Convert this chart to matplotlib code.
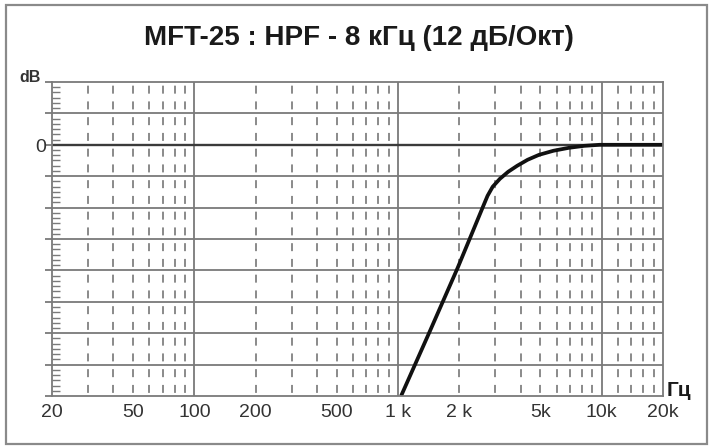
import matplotlib
matplotlib.use('Agg')
import matplotlib.pyplot as plt
from matplotlib.patches import Rectangle

# response curve (Hz, dB)
freq = [1035, 1434, 1963, 2280, 2624, 2752, 2915, 3163, 3472, 3850, 4328,
        4920, 5793, 6889, 8198, 9770, 20000]
gain = [-24.0, -17.8, -11.75, -8.7, -5.83, -4.87, -4.01, -3.25, -2.58, -2.0, -1.43,
        -0.96, -0.57, -0.29, -0.1, 0.0, 0.0]

tick_freqs = [20, 50, 100, 200, 500, 1000, 2000, 5000, 10000, 20000]
tick_labels = ['20', '50', '100', '200', '500', '1 k', '2 k', '5k', '10k', '20k']
major_freqs = [100, 1000, 10000]
minor_freqs = [30, 40, 50, 60, 70, 80, 90,
               200, 300, 400, 500, 600, 700, 800, 900,
               2000, 3000, 4000, 5000, 6000, 7000, 8000, 9000,
               12000, 14000, 16000, 18000]
db_lines = [-21, -18, -15, -12, -9, -6, -3, 3]
db_min, db_max = -24, 6

title = 'MFT-25 : HPF - 8 кГц (12 дБ/Окт)'

W, H = 712, 448
fig = plt.figure(figsize=(W / 100, H / 100), dpi=100)
plt.rcParams['font.family'] = ['Liberation Sans', 'DejaVu Sans']

# outer frame
fig.patches.append(Rectangle((6 / W, 4 / H), 701 / W, 439 / H, transform=fig.transFigure,
                             fill=False, edgecolor='#8a8a8a', linewidth=1.6))

ax = fig.add_axes([52 / W, (H - 396) / H, 611 / W, 314 / H])
ax.set_xscale('log')
ax.set_xlim(20, 20000)
ax.set_ylim(db_min, db_max)

grid_c = '#7a7a7a'
ax.vlines(minor_freqs, db_min, db_max, colors='#8a8a8a', linewidth=1.4,
          linestyles=(6.5, (4.1, 4.0)))
ax.vlines(major_freqs, db_min, db_max, colors=grid_c, linewidth=1.3)
ax.hlines(db_lines, 20, 20000, colors=grid_c, linewidth=1.3)
ax.axhline(0, color='#3a3a3a', linewidth=1.7)

ax.plot(freq, gain, color='#111111', linewidth=2.7, solid_capstyle='butt')

for s in ax.spines.values():
    s.set_color(grid_c)
    s.set_linewidth(1.3)

ax.set_xticks(tick_freqs)
ax.set_xticklabels(tick_labels)
ax.xaxis.set_minor_locator(matplotlib.ticker.NullLocator())
ax.tick_params(axis='x', length=0, pad=6, labelsize=14, labelcolor='#333333')

ax.set_yticks(db_lines + [0, db_min, db_max])
ax.set_yticklabels([])
ax.tick_params(axis='y', which='major', direction='out', length=5, color=grid_c, width=1.3)
ax.yaxis.set_minor_locator(matplotlib.ticker.MultipleLocator(0.5))
ax.tick_params(axis='y', which='minor', direction='in', length=6, color=grid_c, width=1.0)

fig.text(359 / W, 1 - 38 / H, title, ha='center', va='center',
         fontsize=20, fontweight='bold', color='#1a1a1a')
fig.text(19 / W, 1 - 77 / H, 'dB', ha='left', va='center',
         fontsize=11.5, fontweight='bold', color='#333333')
fig.text(46 / W, 1 - 148 / H, '0', ha='right', va='center',
         fontsize=14, color='#333333')
fig.text(667 / W, 1 - 390 / H, 'Гц', ha='left', va='center',
         fontsize=15, fontweight='bold', color='#1a1a1a')

fig.savefig('out.png', dpi=100)
